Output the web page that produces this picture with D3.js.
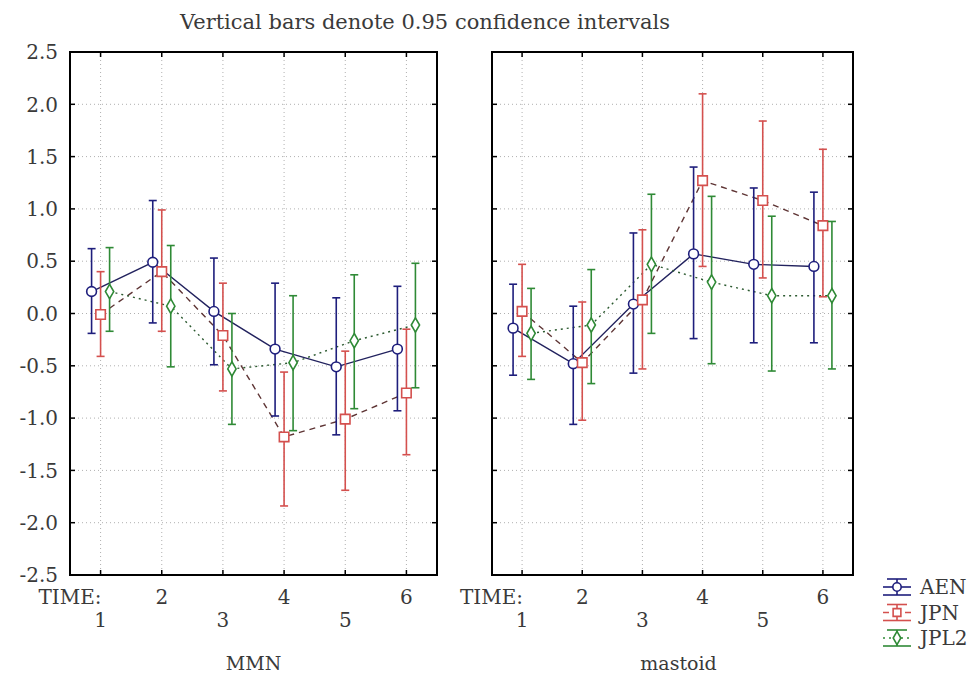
<!DOCTYPE html>
<html><head><meta charset="utf-8">
<script src="https://cdn.jsdelivr.net/npm/d3@7"></script>
<style>body{margin:0;background:#fff}svg{display:block}</style>
</head><body>
<svg id="c" width="976" height="675"></svg>
<script>
const times = ["1","2","3","4","5","6"];
const seriesNames = ["AEN","JPN","JPL2"];
const yTicks = [-2.5,-2.0,-1.5,-1.0,-0.5,0.0,0.5,1.0,1.5,2.0,2.5];
const title = "Vertical bars denote 0.95 confidence intervals";
const panelNames = ["MMN","mastoid"];

// MMN panel
const mmnAEN_mean = [0.21,0.49,0.02,-0.34,-0.51,-0.34];
const mmnAEN_lo   = [-0.19,-0.09,-0.49,-0.98,-1.16,-0.93];
const mmnAEN_hi   = [0.62,1.08,0.53,0.29,0.15,0.26];
const mmnJPN_mean = [-0.01,0.40,-0.21,-1.18,-1.01,-0.76];
const mmnJPN_lo   = [-0.41,-0.17,-0.74,-1.84,-1.69,-1.35];
const mmnJPN_hi   = [0.40,0.99,0.29,-0.56,-0.36,-0.15];
const mmnJPL2_mean = [0.21,0.07,-0.53,-0.47,-0.26,-0.11];
const mmnJPL2_lo   = [-0.17,-0.51,-1.06,-1.12,-0.91,-0.71];
const mmnJPL2_hi   = [0.63,0.65,0.00,0.17,0.37,0.48];

// mastoid panel
const masAEN_mean = [-0.14,-0.48,0.09,0.57,0.47,0.45];
const masAEN_lo   = [-0.59,-1.06,-0.57,-0.24,-0.28,-0.28];
const masAEN_hi   = [0.28,0.07,0.77,1.40,1.20,1.16];
const masJPN_mean = [0.02,-0.47,0.13,1.27,1.08,0.84];
const masJPN_lo   = [-0.41,-1.02,-0.53,0.45,0.34,0.16];
const masJPN_hi   = [0.47,0.11,0.80,2.10,1.84,1.57];
const masJPL2_mean = [-0.19,-0.11,0.47,0.30,0.17,0.17];
const masJPL2_lo   = [-0.63,-0.67,-0.19,-0.48,-0.55,-0.53];
const masJPL2_hi   = [0.24,0.42,1.14,1.12,0.93,0.88];

const panelData = [
  [ {mean:mmnAEN_mean, lo:mmnAEN_lo, hi:mmnAEN_hi},
    {mean:mmnJPN_mean, lo:mmnJPN_lo, hi:mmnJPN_hi},
    {mean:mmnJPL2_mean, lo:mmnJPL2_lo, hi:mmnJPL2_hi} ],
  [ {mean:masAEN_mean, lo:masAEN_lo, hi:masAEN_hi},
    {mean:masJPN_mean, lo:masJPN_lo, hi:masJPN_hi},
    {mean:masJPL2_mean, lo:masJPL2_lo, hi:masJPL2_hi} ]
];

const styles = {
  AEN:  {bar:"#1e1e7c", line:"#22225e", dash:null,  off:-9, sym:"circle"},
  JPN:  {bar:"#d4504e", line:"#5e3434", dash:"6,5", off:0,  sym:"square"},
  JPL2: {bar:"#2f8a36", line:"#2c5a30", dash:"2,4", off:9,  sym:"diamond"}
};
const FONT = "'DejaVu Serif', 'Liberation Serif', serif";
const TXT = "#3a3a3a";
const svg = d3.select("#c");
const panels = [{x0:70,x1:437,tx:0},{x0:492,x1:853,tx:6}];
const yTop = 52, yBot = 575;
const y = d3.scaleLinear().domain([-2.5,2.5]).range([yBot,yTop]);

svg.append("text").attr("x",180).attr("y",22).attr("dy","0.35em")
  .attr("font-family",FONT).attr("font-size",19.5).attr("fill",TXT)
  .attr("textLength",490).attr("lengthAdjust","spacingAndGlyphs").text(title);

function symbolPath(type, size){
  const t = type==="circle"?d3.symbolCircle:type==="square"?d3.symbolSquare:d3.symbolDiamond;
  return d3.symbol().type(t).size(size)();
}

panels.forEach((p,pi)=>{
  const g = svg.append("g");
  const x = d3.scalePoint().domain(times).range([p.x0,p.x1]).padding(0.5);
  // grid
  g.selectAll(".gy").data(yTicks.slice(1,-1)).join("line")
    .attr("x1",p.x0).attr("x2",p.x1).attr("y1",d=>y(d)).attr("y2",d=>y(d))
    .attr("stroke","#b0b0b0").attr("stroke-width",1).attr("stroke-dasharray","1,3");
  g.selectAll(".gx").data(times).join("line")
    .attr("x1",d=>x(d)).attr("x2",d=>x(d)).attr("y1",yTop).attr("y2",yBot)
    .attr("stroke","#b0b0b0").attr("stroke-width",1).attr("stroke-dasharray","1,3");
  // ticks inward
  g.selectAll(".tl").data(yTicks).join("line")
    .attr("x1",p.x0).attr("x2",p.x0+5).attr("y1",d=>y(d)).attr("y2",d=>y(d)).attr("stroke","#000").attr("stroke-width",1.5);
  g.selectAll(".tr").data(yTicks).join("line")
    .attr("x1",p.x1-5).attr("x2",p.x1).attr("y1",d=>y(d)).attr("y2",d=>y(d)).attr("stroke","#000").attr("stroke-width",1.5);
  g.selectAll(".tt").data(times).join("line")
    .attr("x1",d=>x(d)).attr("x2",d=>x(d)).attr("y1",yTop).attr("y2",yTop+5).attr("stroke","#000").attr("stroke-width",1.5);
  g.selectAll(".tb").data(times).join("line")
    .attr("x1",d=>x(d)).attr("x2",d=>x(d)).attr("y1",yBot-5).attr("y2",yBot).attr("stroke","#000").attr("stroke-width",1.5);

  // series lines
  seriesNames.forEach((s,si)=>{
    const st = styles[s], d = panelData[pi][si];
    const pts = times.map((t,i)=>({x:x(t)+st.off, m:d.mean[i]}));
    const ln = d3.line().x(q=>q.x).y(q=>y(q.m));
    g.append("path").datum(pts).attr("d",ln).attr("fill","none")
      .attr("stroke",st.line).attr("stroke-width",1.4).attr("stroke-dasharray",st.dash);
  });
  // error bars + markers
  seriesNames.forEach((s,si)=>{
    const st = styles[s], d = panelData[pi][si];
    const pts = times.map((t,i)=>({x:x(t)+st.off, m:d.mean[i], lo:d.lo[i], hi:d.hi[i]}));
    const eb = g.append("g").attr("stroke",st.bar).attr("stroke-width",1.6);
    eb.selectAll(".v").data(pts).join("line").attr("x1",q=>q.x).attr("x2",q=>q.x).attr("y1",q=>y(q.lo)).attr("y2",q=>y(q.hi));
    eb.selectAll(".c1").data(pts).join("line").attr("x1",q=>q.x-4).attr("x2",q=>q.x+4).attr("y1",q=>y(q.lo)).attr("y2",q=>y(q.lo));
    eb.selectAll(".c2").data(pts).join("line").attr("x1",q=>q.x-4).attr("x2",q=>q.x+4).attr("y1",q=>y(q.hi)).attr("y2",q=>y(q.hi));
    g.selectAll(".m"+si).data(pts).join("path")
      .attr("transform",q=>`translate(${q.x},${y(q.m)})`)
      .attr("d",symbolPath(st.sym, st.sym==="diamond"?60:st.sym==="square"?90:75))
      .attr("fill","#fff").attr("stroke",st.bar).attr("stroke-width",1.6);
  });

  // frame
  g.append("rect").attr("x",p.x0).attr("y",yTop).attr("width",p.x1-p.x0).attr("height",yBot-yTop)
    .attr("fill","none").attr("stroke","#000").attr("stroke-width",2);

  // y labels (left panel only)
  if(pi===0){
    g.selectAll(".yl").data(yTicks).join("text")
      .attr("x",58).attr("y",d=>y(d)).attr("dy","0.36em").attr("text-anchor","end")
      .attr("font-family",FONT).attr("font-size",20).attr("fill",TXT)
      .text(d=>d3.format(".1f")(d).replace("\u2212","-"));
  }
  // x labels staggered
  g.selectAll(".xl").data(times).join("text")
    .attr("x",d=>x(d)).attr("y",(d,i)=> i%2===0 ? 620 : 597).attr("dy","0.36em")
    .attr("text-anchor","middle").attr("font-family",FONT).attr("font-size",20).attr("fill",TXT)
    .text(d=>d);
  g.append("text").attr("x",x(times[0])+1).attr("y",597).attr("dy","0.36em").attr("text-anchor","end")
    .attr("font-family",FONT).attr("font-size",20).attr("fill",TXT).text("TIME:");
  g.append("text").attr("x",(p.x0+p.x1)/2 + p.tx).attr("y",663).attr("dy","0.36em").attr("text-anchor","middle")
    .attr("font-family",FONT).attr("font-size",19).attr("fill",TXT).text(panelNames[pi]);
});

// legend
const lg = svg.append("g");
seriesNames.forEach((s,i)=>{
  const st = styles[s];
  const cy = 587 + i*25.5, cx = 897;
  const it = lg.append("g").attr("stroke",st.bar).attr("stroke-width",1.6);
  it.append("line").attr("x1",cx-10).attr("x2",cx+10).attr("y1",cy-8).attr("y2",cy-8);
  it.append("line").attr("x1",cx-14).attr("x2",cx+14).attr("y1",cy+8).attr("y2",cy+8);
  it.append("line").attr("x1",cx).attr("x2",cx).attr("y1",cy-8).attr("y2",cy+8);
  it.append("line").attr("x1",cx-14).attr("x2",cx+14).attr("y1",cy).attr("y2",cy).attr("stroke-dasharray",st.dash);
  it.append("path").attr("transform",`translate(${cx},${cy})`)
    .attr("d",symbolPath(st.sym, st.sym==="diamond"?50:st.sym==="square"?60:55))
    .attr("fill","#fff");
  lg.append("text").attr("x",920).attr("y",cy).attr("dy","0.36em")
    .attr("font-family",FONT).attr("font-size",20).attr("fill",TXT).text(s);
});
</script>
</body></html>
